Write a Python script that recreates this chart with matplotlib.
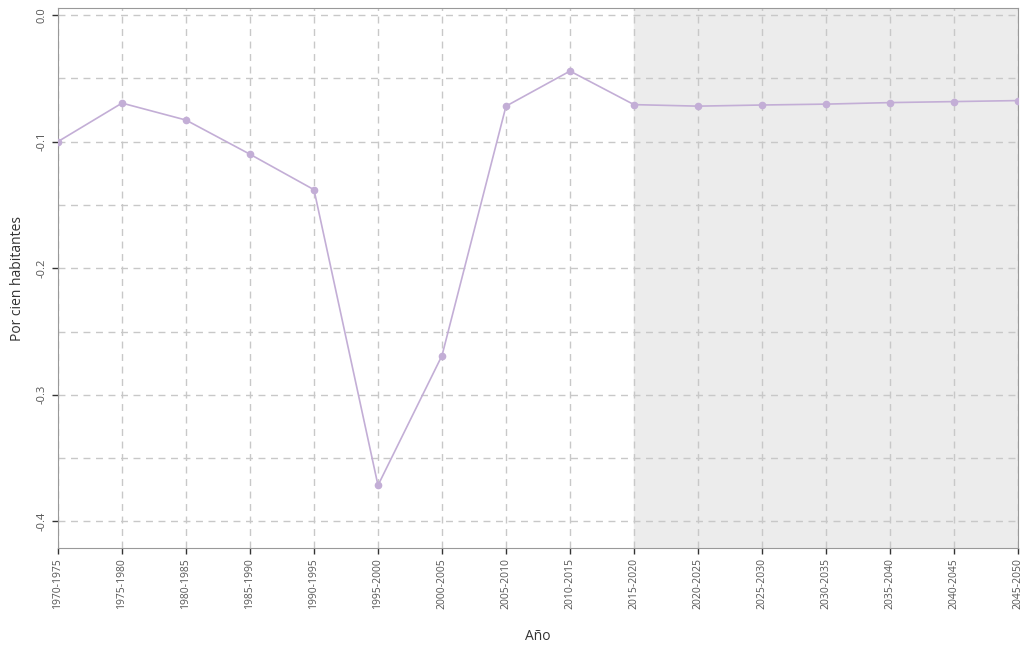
import numpy as np
import matplotlib.pyplot as plt
from matplotlib.ticker import MultipleLocator

periodos = ["1970-1975", "1975-1980", "1980-1985", "1985-1990", "1990-1995",
            "1995-2000", "2000-2005", "2005-2010", "2010-2015", "2015-2020",
            "2020-2025", "2025-2030", "2030-2035", "2035-2040", "2040-2045",
            "2045-2050"]
valores = [-0.100, -0.0696, -0.083, -0.110, -0.138, -0.3715, -0.269, -0.072,
           -0.0443, -0.0708, -0.072, -0.0711, -0.0704, -0.0692, -0.0684, -0.0676]
inicio_proyeccion = "2015-2020"

plt.rcParams['font.family'] = ['Open Sans', 'DejaVu Sans']

fig = plt.figure(figsize=(10.28, 6.47), dpi=100)
ax = fig.add_axes([0.0564, 0.153, 0.9339, 0.8346])

x = np.arange(len(periodos))
i0 = periodos.index(inicio_proyeccion)
ax.axvspan(x[i0], x[-1], color='#ececec', zorder=0)

ax.plot(x, valores, color='#c3aed6', lw=1.2, marker='o', ms=4.5, zorder=3)

ax.set_xlim(x[0], x[-1])
ax.set_ylim(-0.421, 0.0055)
ax.set_xticks(x)
ax.set_xticklabels(periodos, rotation=90, fontsize=7.5, color='#555555')
ax.yaxis.set_major_locator(MultipleLocator(0.1))
ax.yaxis.set_minor_locator(MultipleLocator(0.05))
ax.set_yticks([0.0, -0.1, -0.2, -0.3, -0.4])
ax.set_yticklabels(["0.0", "-0.1", "-0.2", "-0.3", "-0.4"], rotation=90,
                   va='center', fontsize=8, color='#555555')
ax.tick_params(axis='y', which='minor', length=0)
ax.tick_params(axis='both', which='major', length=4, width=1, color='#333333')

ax.grid(True, which='both', color='#c8c8c8', linestyle=(0, (5, 4)), lw=1)
ax.set_axisbelow(True)
for s in ax.spines.values():
    s.set_color('#999999')

ax.set_xlabel("Año", fontsize=10, color='#333333', labelpad=14)
ax.set_ylabel("Por cien habitantes", fontsize=10, color='#333333', labelpad=8)

fig.savefig("out.png", dpi=100)
